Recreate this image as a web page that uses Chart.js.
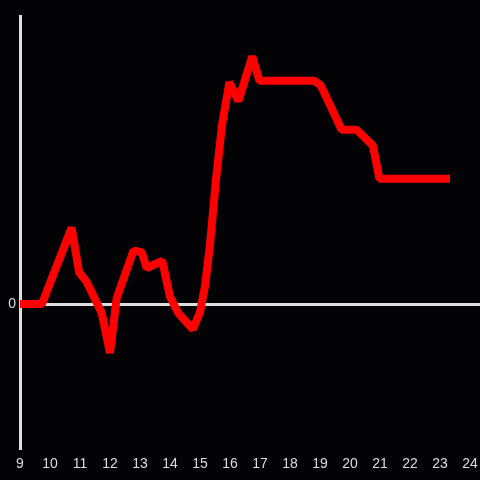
<!DOCTYPE html>
<html>
<head>
<meta charset="utf-8">
<script src="https://cdn.jsdelivr.net/npm/chart.js@4"></script>
<style>
  html, body { margin: 0; padding: 0; background: #030204; }
  #wrap { width: 480px; height: 480px; }
</style>
</head>
<body>
<div id="wrap"><canvas id="myLineChart"></canvas></div>
<script>
// Data
const xValues = [9, 9.73, 10.72, 10.97, 11.22, 11.72, 12.0, 12.22, 12.78, 13.06, 13.22, 13.74,
    14.0, 14.28, 14.76, 15.0, 15.17, 15.33, 15.53, 15.73, 15.98, 16.28, 16.74, 16.98,
    18.8, 19.02, 19.72, 20.22, 20.76, 20.98, 23.33];
const yValues = [0, 0, 0.53, 0.22, 0.155, -0.06, -0.34, 0.04, 0.37, 0.36, 0.25, 0.30,
    0.05, -0.065, -0.175, -0.055, 0.13, 0.41, 0.86, 1.24, 1.54, 1.41, 1.72, 1.55,
    1.55, 1.52, 1.21, 1.21, 1.10, 0.87, 0.87];
const xTicks = [9, 10, 11, 12, 13, 14, 15, 16, 17, 18, 19, 20, 21, 22, 23, 24];
const yTickLabels = ['0'];

const axisColor = '#dedede';

Chart.defaults.font.family = '"Liberation Sans", Arial, sans-serif';
Chart.defaults.font.size = 14;
Chart.defaults.color = axisColor;

const ctx = document.getElementById('myLineChart').getContext('2d');
const myLineChart = new Chart(ctx, {
    type: 'line',
    data: {
        datasets: [{
            data: xValues.map((x, i) => ({ x: x, y: yValues[i] })),
            borderColor: '#ff0000',
            borderWidth: 8,
            borderJoinStyle: 'bevel',
            pointRadius: 0,
            tension: 0,
            fill: false,
        }]
    },
    options: {
        responsive: true,
        maintainAspectRatio: false,
        animation: false,
        layout: { padding: { top: 16, right: 0, left: 0, bottom: 0 } },
        plugins: { legend: { display: false }, tooltip: { enabled: false } },
        scales: {
            x: {
                type: 'linear',
                min: 9,
                max: 24.33,
                afterBuildTicks: (axis) => { axis.ticks = xTicks.map(v => ({ value: v })); },
                afterFit: (axis) => { axis.height = 32; axis.paddingLeft = 0; axis.paddingRight = 0; },
                grid: { display: false },
                border: { display: false },
                ticks: { color: axisColor, padding: 0, maxRotation: 0, autoSkip: false },
            },
            y: {
                min: -1,
                max: 2,
                afterFit: (axis) => { axis.width = 20; },
                ticks: {
                    stepSize: 1,
                    padding: 4,
                    color: axisColor,
                    callback: (v) => (yTickLabels.includes(String(v)) ? String(v) : ''),
                },
                grid: {
                    drawTicks: false,
                    lineWidth: 3,
                    color: (c) => (c.tick && c.tick.value === 0 ? axisColor : 'transparent'),
                },
                border: { display: true, color: axisColor, width: 3 },
            }
        }
    }
});
</script>
</body>
</html>
